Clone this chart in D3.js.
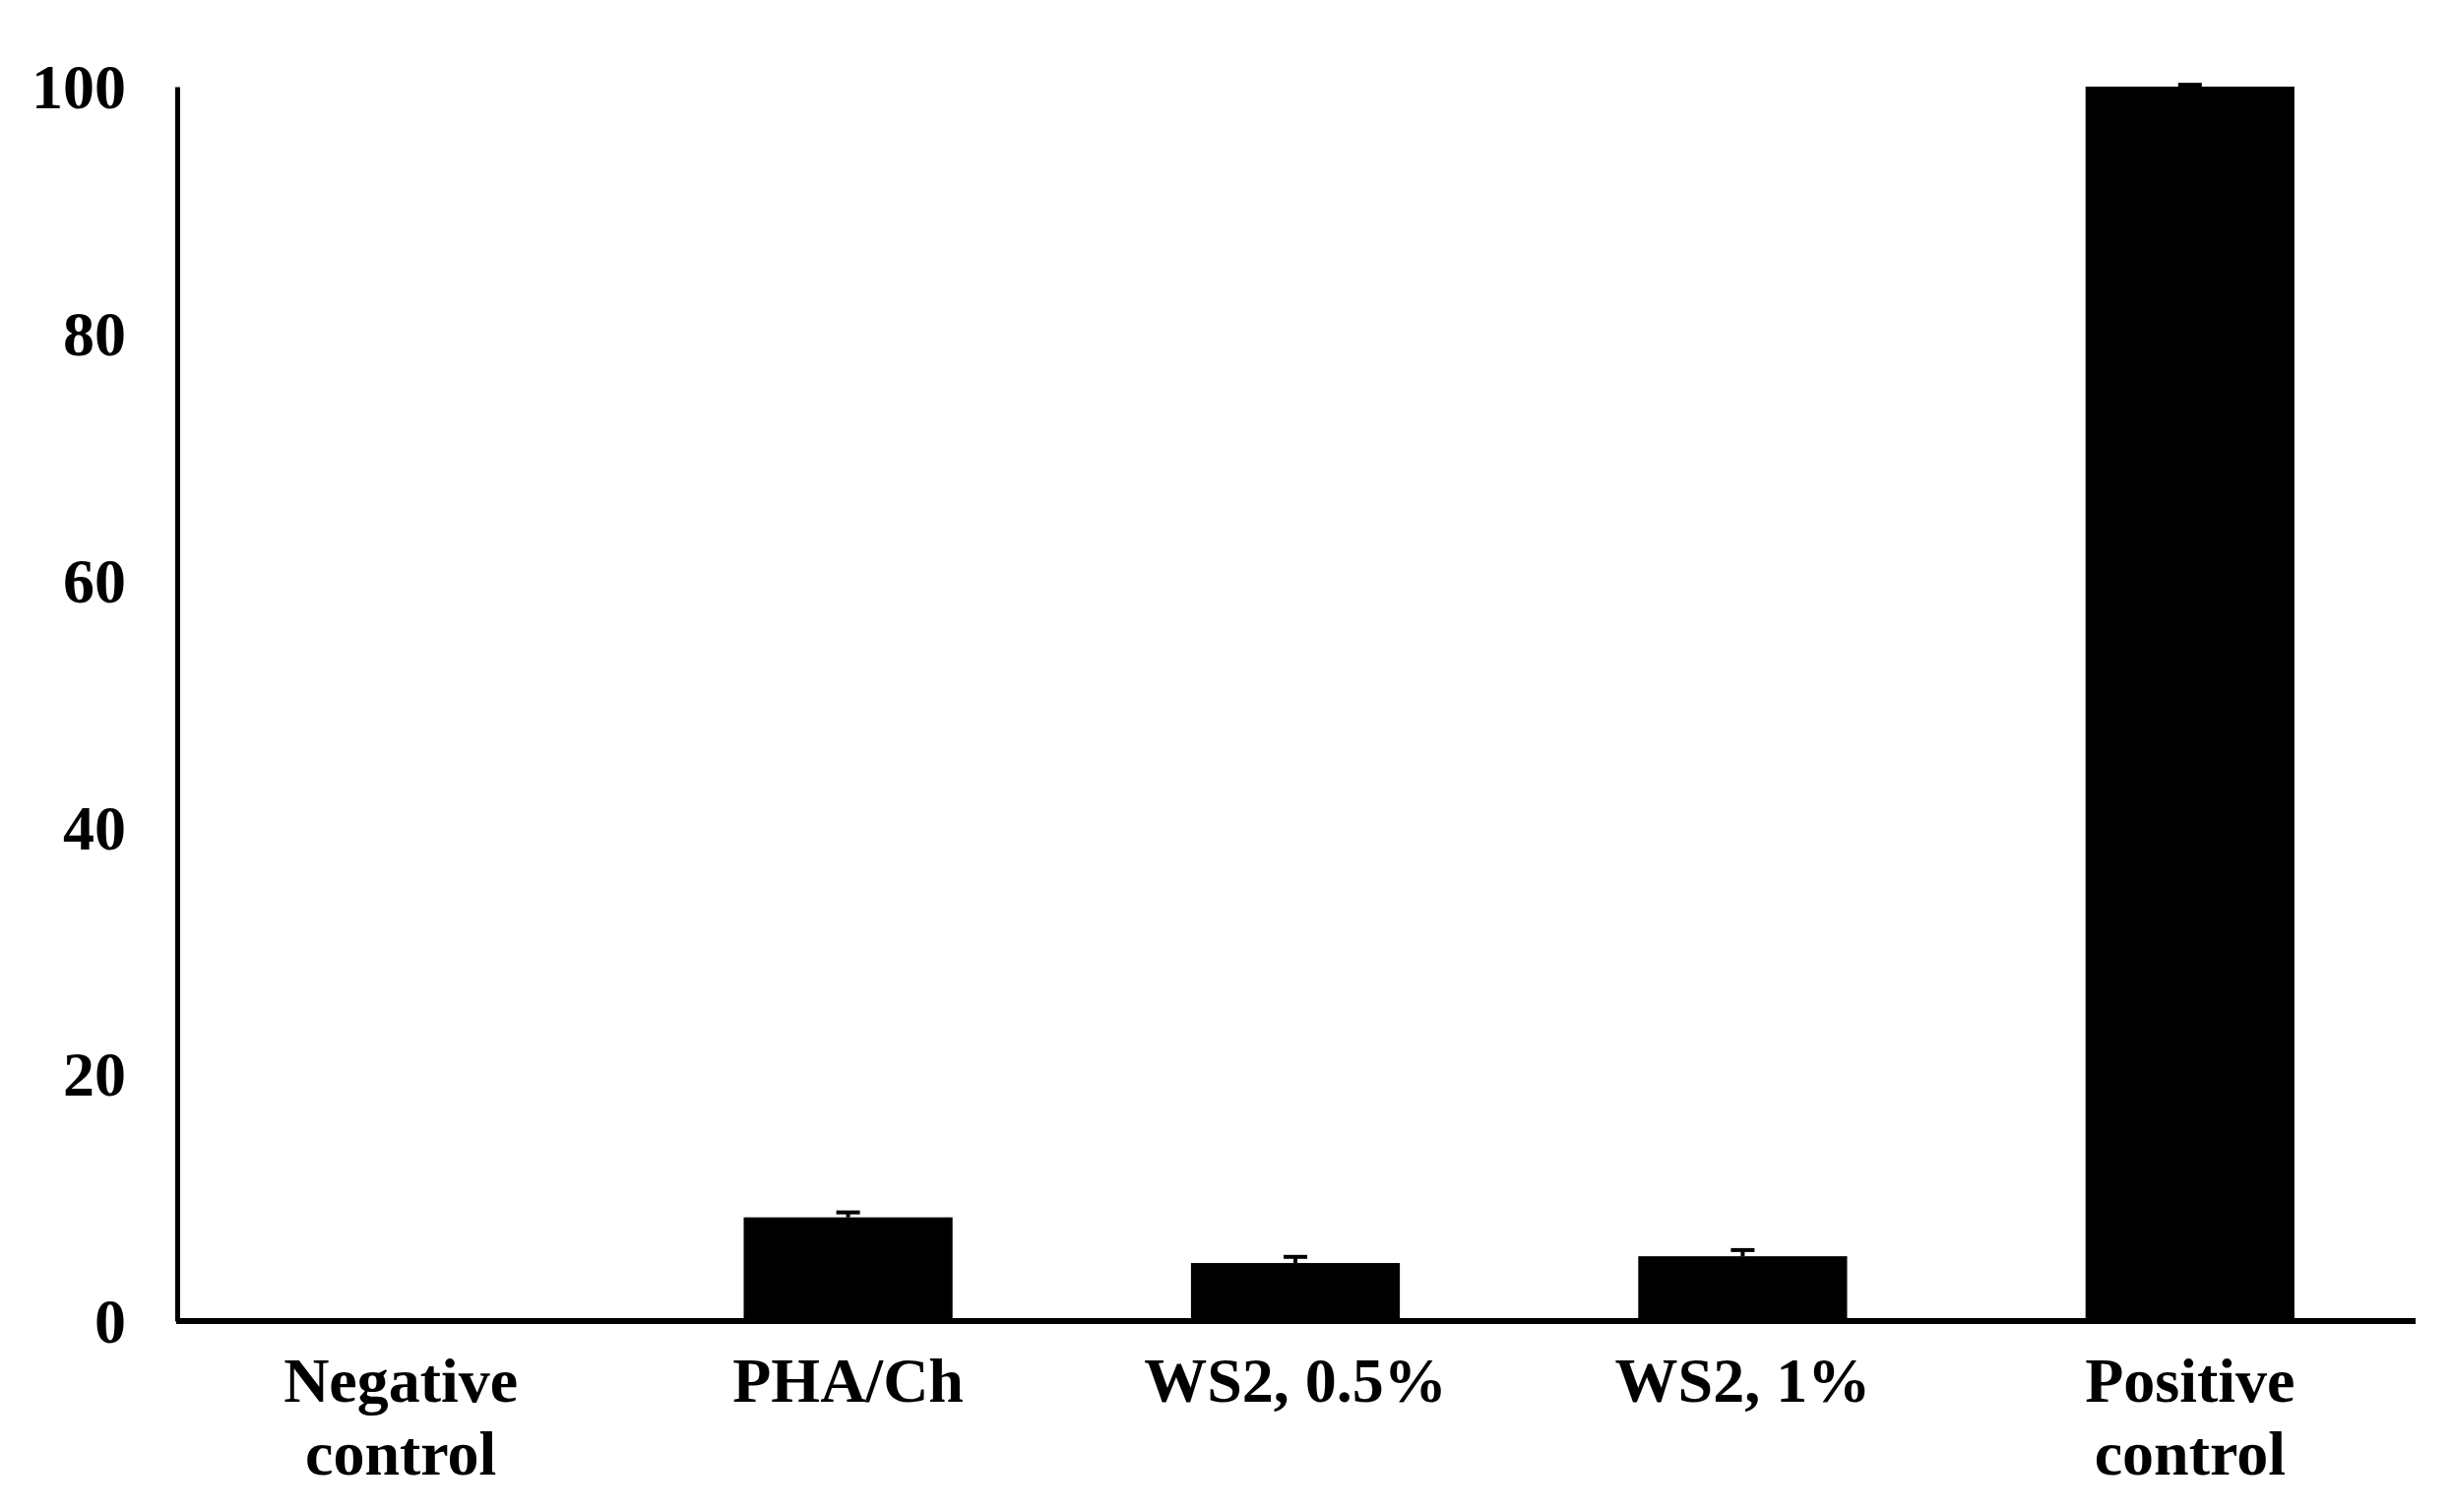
<!DOCTYPE html>
<html lang="en">
<head>
  <meta charset="UTF-8">
  <title>Bar chart</title>
  <script src="https://d3js.org/d3.v7.min.js"></script>
  <style>
    body {
      margin: 0;
      padding: 0;
      background: #fff;
    }
    .axis text {
      font-family: "Liberation Serif", "Times New Roman", serif;
      font-weight: bold;
      font-size: 64px;
      fill: #000;
    }
  </style>
</head>
<body>
  <div id="chart"></div>
  <script>
    // data
    const categories = ["Negative control", "PHA/Ch", "WS2, 0.5%", "WS2, 1%", "Positive control"];
    const tickLines = [["Negative", "control"], ["PHA/Ch"], ["WS2, 0.5%"], ["WS2, 1%"], ["Positive", "control"]];
    const values = [0, 8.4, 4.7, 5.25, 100];
    const errors = [0, 0.4, 0.5, 0.5, 0.15];
    const yTicks = [0, 20, 40, 60, 80, 100];

    const width = 2492;
    const height = 1536;
    const margin = { top: 88, right: 40, bottom: 194, left: 180 };

    const svg = d3.select("#chart")
      .append("svg")
      .attr("width", width)
      .attr("height", height);

    const x = d3.scaleBand()
      .domain(categories)
      .range([margin.left, 2452])
      .paddingInner(0.533)
      .paddingOuter(0.2665);

    const y = d3.scaleLinear()
      .domain([0, 100])
      .range([height - margin.bottom, margin.top]);

    const rows = categories.map((c, i) => ({ name: c, value: values[i], err: errors[i] }));

    // bars
    svg.selectAll("rect.bar")
      .data(rows)
      .join("rect")
      .attr("class", "bar")
      .attr("x", d => x(d.name))
      .attr("width", x.bandwidth())
      .attr("y", d => y(d.value))
      .attr("height", d => y(0) - y(d.value))
      .attr("fill", "#000");

    // error bars (only the upper half shows above the bar)
    const eb = svg.selectAll("g.err")
      .data(rows.filter(d => d.err > 0))
      .join("g")
      .attr("class", "err")
      .attr("stroke", "#000")
      .attr("stroke-width", 4);

    eb.append("line")
      .attr("x1", d => x(d.name) + x.bandwidth() / 2)
      .attr("x2", d => x(d.name) + x.bandwidth() / 2)
      .attr("y1", d => y(d.value))
      .attr("y2", d => y(d.value + d.err));

    eb.append("line")
      .attr("x1", d => x(d.name) + x.bandwidth() / 2 - 12)
      .attr("x2", d => x(d.name) + x.bandwidth() / 2 + 12)
      .attr("y1", d => y(d.value + d.err))
      .attr("y2", d => y(d.value + d.err));

    // y axis
    const yAxis = svg.append("g")
      .attr("class", "axis")
      .attr("transform", `translate(${margin.left},0)`)
      .call(d3.axisLeft(y).tickValues(yTicks).tickSize(0).tickPadding(52));
    yAxis.select(".domain").attr("stroke", "#000").attr("stroke-width", 5);
    yAxis.selectAll(".tick text").attr("dy", "0.34em");

    // x axis
    const xAxis = svg.append("g")
      .attr("class", "axis")
      .attr("transform", `translate(0,${y(0)})`)
      .call(d3.axisBottom(x).tickSize(0));
    xAxis.select(".domain")
      .attr("stroke", "#000")
      .attr("stroke-width", 6)
      .attr("d", `M${margin.left - 1},0H2454`);

    xAxis.selectAll(".tick text").each(function (d) {
      const lines = tickLines[categories.indexOf(d)];
      const t = d3.select(this).text(null).attr("y", 82).attr("dy", null);
      lines.forEach((s, i) => {
        t.append("tspan")
          .attr("x", 0)
          .attr("dy", i === 0 ? 0 : 74)
          .text(s);
      });
    });
  </script>
</body>
</html>
